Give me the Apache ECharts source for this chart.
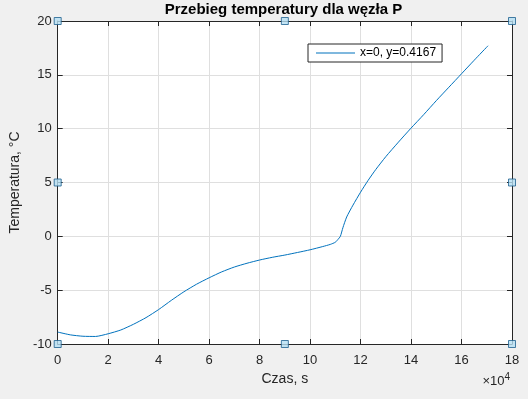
<!DOCTYPE html>
<html>
<head>
<meta charset="utf-8">
<script src="https://cdn.jsdelivr.net/npm/echarts@6/dist/echarts.min.js"></script>
<style>
html, body { margin: 0; padding: 0; background: #f0f0f0; }
#chart { width: 528px; height: 399px; }
</style>
</head>
<body>
<div id="chart"></div>
<script>
// czas w sekundach, temperatura w st. C
var timeData = [0, 5000, 10000, 15000, 20000, 25000, 30000, 35000, 40000, 45000,
    50000, 55000, 60000, 65000, 70000, 75000, 80000, 85000, 90000, 95000,
    100000, 105000, 108000, 110000, 111000, 112000, 113000, 114500, 117000, 120000,
    123000, 126000, 130000, 135000, 140000, 145000, 150000, 155000, 160000, 165000, 170500];
var tempData = [-8.89, -9.15, -9.28, -9.3, -9.05, -8.7, -8.17, -7.55, -6.8, -5.95,
    -5.15, -4.45, -3.85, -3.3, -2.85, -2.5, -2.2, -1.95, -1.74, -1.5,
    -1.25, -0.95, -0.75, -0.55, -0.3, 0.0, 0.8, 1.8, 2.9, 4.1,
    5.2, 6.2, 7.4, 8.75, 10.05, 11.3, 12.6, 13.85, 15.1, 16.35, 17.7];
var seriesName = 'x=0, y=0.4167';
var handlePoints = [[0, -10], [90000, -10], [180000, -10], [0, 5], [180000, 5],
    [0, 20], [90000, 20], [180000, 20]];

var lineData = [];
for (var i = 0; i < timeData.length; i++) {
    lineData.push([timeData[i], tempData[i]]);
}

var myChart = echarts.init(document.getElementById('chart'));
var axisColor = '#262626';
var font = 'Liberation Sans, Arial, Helvetica, sans-serif';

var option = {
    backgroundColor: '#f0f0f0',
    animation: false,
    title: {
        text: 'Przebieg temperatury dla węzła P',
        left: 283.5,
        textAlign: 'center',
        top: 2,
        padding: 0,
        textStyle: { fontFamily: font, fontSize: 15, fontWeight: 'bold', color: '#000' }
    },
    legend: {
        data: [seriesName],
        left: 308,
        top: 44,
        padding: [3, 6, 3, 8],
        itemWidth: 39,
        itemHeight: 1,
        icon: 'rect',
        backgroundColor: '#fff',
        borderColor: axisColor,
        borderWidth: 1,
        borderRadius: 0,
        textStyle: { fontFamily: font, fontSize: 12, color: '#000' }
    },
    grid: {
        left: 55,
        right: 16,
        top: 21,
        bottom: 55,
        show: true,
        backgroundColor: '#fff',
        borderWidth: 0
    },
    xAxis: [{
        type: 'value',
        min: 0,
        max: 180000,
        interval: 20000,
        name: 'Czas, s',
        nameLocation: 'middle',
        nameGap: 28,
        nameTextStyle: { fontFamily: font, fontSize: 14, color: axisColor },
        axisLine: { onZero: false, lineStyle: { color: axisColor, width: 1 } },
        axisTick: { inside: true, length: 5, lineStyle: { color: axisColor } },
        axisLabel: {
            margin: 10,
            fontFamily: font, fontSize: 13, color: axisColor,
            formatter: function (v) { return v / 10000; }
        },
        splitLine: { show: true, lineStyle: { color: '#dfdfdf', width: 1 } }
    }, {
        type: 'value',
        position: 'top',
        min: 0,
        max: 180000,
        interval: 20000,
        axisLine: { onZero: false, lineStyle: { color: axisColor, width: 1 } },
        axisTick: { inside: true, length: 5, lineStyle: { color: axisColor } },
        axisLabel: { show: false },
        splitLine: { show: false }
    }],
    yAxis: [{
        type: 'value',
        min: -10,
        max: 20,
        interval: 5,
        name: 'Temperatura, °C',
        nameLocation: 'middle',
        nameGap: 33,
        nameTextStyle: { fontFamily: font, fontSize: 14, color: axisColor },
        axisLine: { show: true, onZero: false, lineStyle: { color: axisColor, width: 1 } },
        axisTick: { show: true, inside: true, length: 5, lineStyle: { color: axisColor } },
        axisLabel: { margin: 6, fontFamily: font, fontSize: 13, color: axisColor },
        splitLine: { show: true, lineStyle: { color: '#dfdfdf', width: 1 } }
    }, {
        type: 'value',
        position: 'right',
        min: -10,
        max: 20,
        interval: 5,
        axisLine: { show: true, onZero: false, lineStyle: { color: axisColor, width: 1 } },
        axisTick: { show: true, inside: true, length: 5, lineStyle: { color: axisColor } },
        axisLabel: { show: false },
        splitLine: { show: false }
    }],
    graphic: [{
        type: 'text',
        right: 18,
        top: 372,
        style: {
            text: '×10{s|4}',
            rich: { s: { fontFamily: font, fontSize: 10, color: axisColor, verticalAlign: 'top', padding: [0, 0, 8, 0] } },
            fontFamily: font,
            fontSize: 13,
            fill: axisColor
        }
    }],
    series: [{
        name: seriesName,
        type: 'line',
        data: lineData,
        showSymbol: false,
        smooth: 0.2,
        lineStyle: { color: '#0072bd', width: 1 },
        itemStyle: { color: '#0072bd' }
    }, {
        type: 'scatter',
        data: handlePoints,
        symbol: 'rect',
        symbolSize: 7,
        clip: false,
        z: 10,
        silent: true,
        itemStyle: { color: '#b5def2', borderColor: '#1d5f8f', borderWidth: 1 }
    }]
};

myChart.setOption(option);
</script>
</body>
</html>
